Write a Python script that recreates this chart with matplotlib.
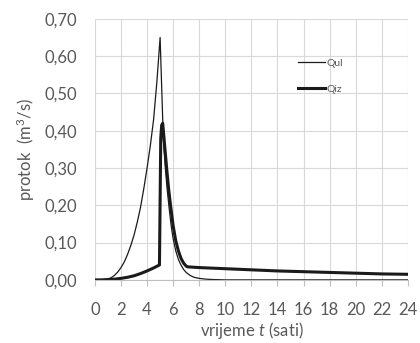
import matplotlib.pyplot as plt
import numpy as np

plt.rcParams['font.family'] = ['Lato', 'DejaVu Sans']
plt.rcParams['mathtext.fontset'] = 'custom'
plt.rcParams['mathtext.rm'] = 'Lato'
plt.rcParams['mathtext.it'] = 'Lato:italic'

# ulazni hidrogram (Qul)
t_ul = [0, 0.5, 0.75, 1.0, 1.25, 1.5, 1.75, 2.0, 2.25, 2.5, 2.75, 3.0, 3.25, 3.5, 3.75,
        4.0, 4.25, 4.5, 4.75, 5.0,
        5.25, 5.4, 5.55, 5.7, 5.85, 6.0, 6.2, 6.4, 6.6, 6.8, 7.0, 7.3, 7.6, 8.0, 8.5, 9.0,
        10.0, 24.0]
q_ul = [0, 0, 0, 0.002, 0.006, 0.012, 0.021, 0.033, 0.048, 0.068, 0.092, 0.12, 0.155, 0.195, 0.245,
        0.30, 0.36, 0.43, 0.53, 0.65,
        0.375, 0.30, 0.24, 0.19, 0.145, 0.11, 0.078, 0.055, 0.04, 0.028, 0.02, 0.012, 0.007, 0.004, 0.002, 0.001,
        0, 0]

# izlazni hidrogram (Qiz)
t_iz = [0, 0.5, 1.0, 1.5, 2.0, 2.5, 3.0, 3.5, 4.0, 4.5, 4.95,
        5.05, 5.12, 5.2, 5.35, 5.5, 5.65, 5.8, 6.0, 6.2, 6.4, 6.6, 6.8, 7.0, 7.1,
        8, 10, 12, 14, 16, 18, 20, 22, 24]
q_iz = [0, 0, 0.001, 0.002, 0.004, 0.007, 0.011, 0.017, 0.024, 0.032, 0.040,
        0.38, 0.415, 0.42, 0.36, 0.30, 0.245, 0.20, 0.145, 0.105, 0.078, 0.058, 0.045, 0.037, 0.035,
        0.033, 0.030, 0.027, 0.024, 0.022, 0.020, 0.018, 0.016, 0.015]

xticks = np.arange(0, 25, 2)
yticks = np.arange(0, 0.71, 0.1)
gray = '#595959'

fig = plt.figure(figsize=(4.2, 3.43), dpi=100)
ax = fig.add_axes([0.226, 0.184, 0.745, 0.761])

ax.plot(t_ul, q_ul, color='#1a1a1a', lw=0.9, label='Qul')
ax.plot(t_iz, q_iz, color='#1a1a1a', lw=2.2, label='Qiz', solid_joinstyle='round')

ax.set_xlim(0, 24)
ax.set_ylim(0, 0.70)
ax.set_xticks(xticks)
ax.set_yticks(yticks)
ax.set_yticklabels([('%.2f' % v).replace('.', ',') for v in yticks])
ax.grid(True, color='#d9d9d9', lw=0.8)
ax.set_axisbelow(True)
for s in ['top', 'right', 'left']:
    ax.spines[s].set_visible(False)
ax.spines['bottom'].set_color('#bfbfbf')
ax.tick_params(axis='y', length=0, pad=13, labelsize=12, colors=gray)
ax.tick_params(axis='x', length=4, color='#bfbfbf', pad=12, labelsize=12, labelcolor=gray)

ax.set_ylabel('protok  (m$^3$/s)', fontsize=12, color=gray, labelpad=5)
ax.set_xlabel('vrijeme $\\it{t}$ (sati)', fontsize=12, color=gray, labelpad=1.5)

leg = ax.legend(loc='upper left', bbox_to_anchor=(0.62, 0.885), frameon=False,
                fontsize=7.5, handlelength=2.6, handletextpad=0.1, labelspacing=1.6)
for txt in leg.get_texts():
    txt.set_color(gray)

fig.savefig('out.png', dpi=100)
